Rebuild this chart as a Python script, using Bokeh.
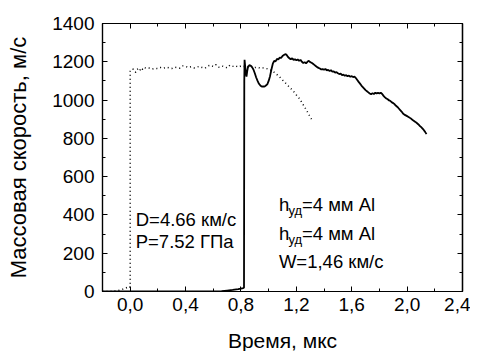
from bokeh.plotting import figure
from bokeh.models import (Range1d, FixedTicker, LinearAxis,
                          CustomJSTickFormatter, Label)
from bokeh.embed import file_html
from bokeh.resources import INLINE

# ---- data ----
dot_t = [-0.20, -0.15, -0.10, -0.07, -0.04, -0.02, -0.01, 0.00,
         0.00, 0.01, 0.02, 0.03, 0.04, 0.05, 0.06, 0.07, 0.08, 0.09, 0.10,
         0.12, 0.14, 0.16, 0.18, 0.20, 0.22, 0.24, 0.26, 0.28, 0.30,
         0.32, 0.34, 0.36, 0.38, 0.40, 0.42, 0.44, 0.46, 0.48, 0.50,
         0.52, 0.54, 0.56, 0.58, 0.60, 0.62, 0.64, 0.66, 0.68, 0.70,
         0.72, 0.74, 0.76, 0.78, 0.80, 0.82, 0.84, 0.86, 0.88, 0.90,
         0.92, 0.94, 0.96, 0.98, 1.00, 1.02, 1.04, 1.06, 1.08, 1.10,
         1.12, 1.14, 1.16, 1.18, 1.20, 1.22, 1.24, 1.26, 1.28, 1.30, 1.31]
dot_v = [0, 0, 3, 8, 15, 22, 18, 25,
         1150, 1158, 1163, 1150, 1145, 1160, 1165, 1155, 1168, 1160, 1170,
         1165, 1167, 1162, 1166, 1164, 1170, 1166, 1172, 1168, 1165,
         1172, 1170, 1166, 1178, 1176, 1170, 1174, 1168, 1172, 1176,
         1170, 1166, 1178, 1182, 1175, 1185, 1172, 1178, 1175, 1168,
         1182, 1176, 1180, 1172, 1178, 1175, 1180, 1172, 1176, 1170,
         1172, 1166, 1168, 1165, 1162, 1155, 1145, 1133, 1120, 1105,
         1090, 1075, 1060, 1045, 1027, 1010, 987, 963, 938, 912, 900]

sol_t = [-0.20, 0.00, 0.20, 0.40, 0.60, 0.66, 0.70, 0.74, 0.78, 0.80, 0.815, 0.822,
         0.824, 0.826, 0.830, 0.835, 0.840, 0.845, 0.85, 0.86, 0.87, 0.88, 0.89,
         0.90, 0.91, 0.92, 0.93, 0.94, 0.95, 0.96, 0.97, 0.98, 0.99,
         1.00, 1.01, 1.02, 1.03, 1.04, 1.05, 1.06, 1.07, 1.08, 1.09,
         1.10, 1.11, 1.12, 1.13, 1.14, 1.15, 1.16, 1.17, 1.18, 1.19,
         1.20, 1.21, 1.22, 1.23, 1.24, 1.25, 1.26, 1.27, 1.28, 1.29,
         1.30, 1.31, 1.32, 1.33, 1.34, 1.35, 1.36, 1.37, 1.38, 1.39,
         1.40, 1.41, 1.42, 1.43, 1.44, 1.45, 1.46, 1.47, 1.48, 1.49,
         1.50, 1.51, 1.52, 1.53, 1.54, 1.55, 1.56, 1.57, 1.58, 1.59,
         1.60, 1.61, 1.62, 1.63, 1.64, 1.65, 1.66, 1.67, 1.68, 1.69,
         1.70, 1.71, 1.72, 1.73, 1.74, 1.75, 1.76, 1.77, 1.78, 1.79,
         1.80, 1.81, 1.82, 1.83, 1.84, 1.85, 1.86, 1.87, 1.88, 1.89,
         1.90, 1.91, 1.92, 1.93, 1.94, 1.95, 1.96, 1.97, 1.98, 1.99,
         2.00, 2.01, 2.02, 2.03, 2.04, 2.05, 2.06, 2.07, 2.08, 2.09,
         2.10, 2.11, 2.12, 2.13, 2.14]
sol_v = [0, 0, 0, 0, 0, 2, 5, 8, 12, 15, 18, 20,
         1100, 1210, 1180, 1140, 1123, 1150, 1170, 1182, 1180, 1172, 1160,
         1140, 1118, 1100, 1085, 1076, 1070, 1072, 1070, 1076, 1082,
         1100, 1125, 1160, 1190, 1205, 1202, 1215, 1212, 1222, 1220,
         1230, 1235, 1240, 1236, 1225, 1218, 1214, 1218, 1210, 1213,
         1208, 1212, 1205, 1210, 1200, 1194, 1198, 1192, 1200, 1205,
         1198, 1195, 1190, 1184, 1178, 1172, 1168, 1165, 1160, 1162,
         1158, 1163, 1155, 1158, 1152, 1156, 1148, 1150, 1143, 1146,
         1140, 1136, 1138, 1130, 1133, 1127, 1130, 1124, 1128, 1122,
         1125, 1120, 1122, 1115, 1105, 1095, 1086, 1076, 1068, 1060,
         1052, 1046, 1040, 1034, 1030, 1036, 1032, 1038, 1035, 1038,
         1034, 1038, 1032, 1022, 1014, 1008, 1004, 998, 995, 988,
         984, 978, 970, 964, 956, 948, 940, 930, 924, 920,
         916, 912, 907, 902, 896, 891, 886, 880, 874, 866,
         860, 852, 844, 834, 822]

x_ticks = [0.0, 0.4, 0.8, 1.2, 1.6, 2.0, 2.4]
x_tick_labels = ["0,0", "0,4", "0,8", "1,2", "1,6", "2,0", "2,4"]
x_minor = [-0.2, 0.2, 0.6, 1.0, 1.4, 1.8, 2.2]
y_ticks = [0, 200, 400, 600, 800, 1000, 1200, 1400]
y_minor = [100, 300, 500, 700, 900, 1100, 1300]

FONT = "Liberation Sans"

p = figure(frame_width=360, frame_height=268,
           x_range=Range1d(-0.2, 2.4), y_range=Range1d(0, 1400),
           output_backend="svg", toolbar_location=None,
           min_border_left=102, min_border_right=8,
           min_border_top=23, min_border_bottom=60)
p.xgrid.visible = False
p.ygrid.visible = False
p.outline_line_color = "black"
p.outline_line_width = 1.2
p.background_fill_color = "white"
p.border_fill_color = "white"

p.line(dot_t, dot_v, line_color="black", line_width=1.5, line_dash="1 3")
p.line(sol_t, sol_v, line_color="black", line_width=1.8)


def style(ax):
    ax.axis_line_color = "black"
    ax.axis_line_width = 1.2
    ax.major_tick_in = 5
    ax.major_tick_out = 0
    ax.minor_tick_in = 3
    ax.minor_tick_out = 0
    ax.major_tick_line_color = "black"
    ax.minor_tick_line_color = "black"
    ax.major_label_text_font = FONT
    ax.major_label_text_color = "black"
    ax.major_label_text_font_size = "19px"
    ax.major_label_standoff = 7
    ax.axis_label_text_font = FONT
    ax.axis_label_text_color = "black"
    ax.axis_label_text_font_style = "normal"


xa = p.xaxis[0]
xa.ticker = FixedTicker(ticks=x_ticks, minor_ticks=x_minor)
xa.formatter = CustomJSTickFormatter(
    args=dict(xt=x_ticks, xl=x_tick_labels),
    code="const i = xt.findIndex(t => Math.abs(t - tick) < 1e-6); return i >= 0 ? xl[i] : '';")
style(xa)
xa.major_label_standoff = 6
xa.axis_label = "Время, мкс"
xa.axis_label_text_font_size = "21px"
xa.axis_label_standoff = 15

ya = p.yaxis[0]
ya.ticker = FixedTicker(ticks=y_ticks, minor_ticks=y_minor)
style(ya)
ya.major_label_standoff = 8
ya.axis_label = "Массовая скорость, м/с"
ya.axis_label_text_font_size = "22px"
ya.axis_label_standoff = 18


def mirror(side, minor, length):
    ax = LinearAxis(ticker=FixedTicker(ticks=[], minor_ticks=minor))
    ax.axis_line_color = "black"
    ax.axis_line_width = 1.2
    ax.major_tick_in = 0
    ax.major_tick_out = 0
    ax.minor_tick_in = length
    ax.minor_tick_out = 0
    ax.minor_tick_line_color = "black"
    p.add_layout(ax, side)


mirror("above", x_minor, 3)
mirror("above", x_ticks, 5)
mirror("right", y_minor, 3)
mirror("right", y_ticks, 5)


def lab(x, y, text, size="18.5px", xo=0, yo=0, align="left"):
    p.add_layout(Label(x=x, y=y, text=text, x_offset=xo, y_offset=yo,
                       text_font=FONT, text_font_size=size, text_color="black",
                       text_baseline="middle", text_align=align))


lab(0.04, 378, "D=4.66 км/с")
lab(0.04, 261, "P=7.52 ГПа")
for yy in (453, 305):
    lab(1.074, yy, "h")
    lab(1.074, yy, "уд", size="13px", xo=9.5, yo=-6)
    lab(1.074, yy, "=4 мм Al", xo=23)
lab(1.074, 157, "W=1,46 км/с")

open("out.html", "w").write(file_html(p, INLINE))
